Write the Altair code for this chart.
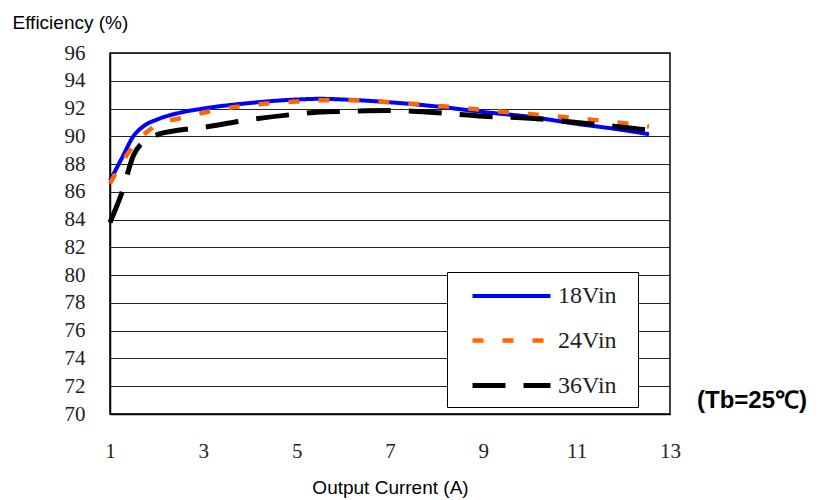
import altair as alt
import pandas as pd

# ---- data ----
current = [1.0, 1.25, 1.5, 1.75, 2.0, 2.5, 3.0, 4.0, 5.0, 5.5, 6.0, 7.0, 8.0, 9.0, 10.0, 11.0, 12.0, 12.55]
eff_18 = [86.8, 88.4, 90.0, 90.8, 91.2, 91.7, 92.0, 92.4, 92.65, 92.7, 92.65, 92.45, 92.15, 91.75, 91.4, 90.9, 90.45, 90.15]
eff_24 = [86.6, 88.1, 89.3, 90.2, 90.8, 91.3, 91.7, 92.25, 92.5, 92.6, 92.6, 92.45, 92.2, 91.9, 91.6, 91.3, 90.95, 90.7]
eff_36 = [83.8, 85.9, 88.6, 89.7, 90.1, 90.45, 90.65, 91.2, 91.6, 91.75, 91.8, 91.85, 91.7, 91.45, 91.3, 91.0, 90.65, 90.45]
series = ["18Vin", "24Vin", "36Vin"]
colors = ["#0000FF", "#FF6600", "#000000"]
dashes = [[1, 0], [11, 19], [33, 18]]
widths = [4, 5, 5]
x_ticks = [1, 3, 5, 7, 9, 11, 13]
y_ticks = list(range(70, 97, 2))
note = "(Tb=25℃)"

rows = []
for name, vals in zip(series, [eff_18, eff_24, eff_36]):
    for i, (c, v) in enumerate(zip(current, vals)):
        rows.append({"current": c, "eff": v, "series": name, "order": i})
df = pd.DataFrame(rows)

legend = alt.Legend(
    title=".", titleOrient="right", titleColor="#FFFFFF", titleFontSize=8,
    titlePadding=9,
    orient="none", legendX=337, legendY=219,
    direction="vertical", strokeColor="#000000", fillColor="#FFFFFF",
    padding=9, symbolOffset=40, symbolType="M-3,0H3", symbolSize=676,
    symbolStrokeWidth=5, labelFont="Liberation Serif", labelFontSize=24,
    labelColor="#222222", labelOffset=31, rowPadding=17, symbolLimit=0,
)

lines = alt.Chart(df).mark_line(interpolate="monotone").encode(
    x=alt.X("current:Q", scale=alt.Scale(domain=[1, 13], nice=False),
            axis=alt.Axis(values=x_ticks, title="Output Current (A)", grid=False,
                          ticks=False, labelPadding=26, titleY=73, labelFlush=False,
                          titleBaseline="middle")),
    y=alt.Y("eff:Q", scale=alt.Scale(domain=[70, 96], nice=False, zero=False),
            axis=alt.Axis(values=y_ticks, title="Efficiency (%)", grid=True,
                          ticks=False, labelPadding=25, titleAngle=0, labelFlush=False,
                          titleAlign="left", titleX=-98, titleY=-31,
                          titleBaseline="middle")),
    color=alt.Color("series:N", scale=alt.Scale(domain=series, range=colors), legend=legend),
    strokeDash=alt.StrokeDash("series:N", scale=alt.Scale(domain=series, range=dashes), legend=legend),
    strokeWidth=alt.StrokeWidth("series:N", scale=alt.Scale(domain=series, range=widths), legend=legend),
    order="order:Q",
)

label = alt.Chart(pd.DataFrame({"t": [note]})).mark_text(
    font="Liberation Sans", fontSize=24, fontWeight="bold", align="left",
    baseline="middle", color="#000000"
).encode(text="t:N", x=alt.value(587), y=alt.value(348))

chart = alt.layer(lines, label).properties(
    width=560, height=361,
    autosize=alt.AutoSizeParams(type="none"),
    padding={"left": 102, "top": 45, "right": 143, "bottom": 88},
).configure_view(
    stroke="#000000", strokeWidth=1.5
).configure_axis(
    labelFont="Liberation Serif", labelFontSize=21, labelColor="#222222",
    titleFont="Liberation Sans", titleFontSize=19, titleFontWeight="normal",
    titleColor="#000000", domainColor="#000000", domainWidth=1.5,
    gridColor="#222222", gridWidth=1, gridOpacity=1,
)

chart.save("out.html", embed_options={"renderer": "svg", "actions": False})
